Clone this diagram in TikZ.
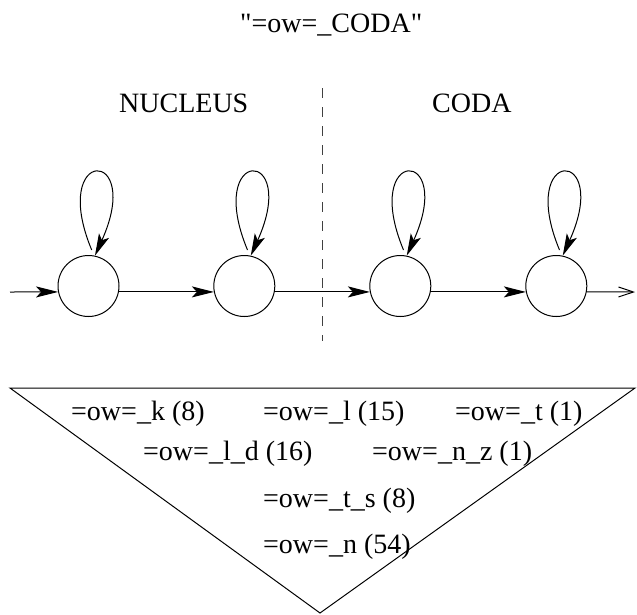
\documentclass[tikz,border=0pt]{standalone}
\usepackage{fontspec}
\setmainfont{Liberation Serif}[Ligatures=TeXOff]
\usetikzlibrary{arrows.meta,calc}
\begin{document}
\begin{tikzpicture}[x=1pt,y=-1pt,
  state/.style={circle,draw,line width=1pt,minimum size=61pt,inner sep=0pt},
  lbl/.style={anchor=base west,inner sep=0pt,font=\fontsize{28}{34}\selectfont},
  arr/.style={line width=1pt,-{Stealth[length=22pt,width=11pt,inset=5pt]}},
  openarr/.style={line width=1pt,-{Straight Barb[length=15pt,width=10pt]}},
  divider/.style={line width=1pt,draw=black!75,dash pattern=on 10pt off 9pt},
  tri/.style={line width=1pt}
]
\useasboundingbox (0,0) rectangle (637,614);

% title and section labels
\node[lbl] (title) at (240,32) {"=ow=\_CODA"};
\node[lbl] (nuc) at (119,112) {NUCLEUS};
\node[lbl] (coda) at (432,112) {CODA};

% divider
\coordinate (dtop) at (322.5,88);
\coordinate (dbot) at (322.5,341);
\draw[divider] (dtop) -- (dbot);

% states
\node[state] (a) at (88.5,286) {};
\node[state] (b) at (244.3,286) {};
\node[state] (c) at (400.3,286) {};
\node[state] (d) at (556.3,286) {};

% self loops
\foreach \s in {a,b,c,d}{
  \draw[arr] ($(\s)+(3.2,-36)$) .. controls ($(\s)+(-40,-140)$) and ($(\s)+(56,-140)$) .. (\s.78);
}

% chain
\coordinate (in) at (10,292);
\coordinate (out) at (635,292);
\draw[arr] (in) -- (a.191);
\draw[arr] (a.-11) -- (b.191);
\draw[arr] (b.-11) -- (c.191);
\draw[arr] (c.-11) -- (d.191);
\draw[openarr] (d.-11) -- (out);

% triangle
\coordinate (tl) at (10,388);
\coordinate (tr) at (635,388);
\coordinate (tb) at (320,613);
\draw[tri] (tl) -- (tr) -- (tb) -- cycle;

% triangle contents
\node[lbl] (k) at (71,420) {=ow=\_k (8)};
\node[lbl] (l) at (263,420) {=ow=\_l (15)};
\node[lbl] (t) at (455,420) {=ow=\_t (1)};
\node[lbl] (ld) at (143,460) {=ow=\_l\_d (16)};
\node[lbl] (nz) at (372,460) {=ow=\_n\_z (1)};
\node[lbl] (ts) at (263,507) {=ow=\_t\_s (8)};
\node[lbl] (n) at (263,553) {=ow=\_n (54)};
\end{tikzpicture}
\end{document}
